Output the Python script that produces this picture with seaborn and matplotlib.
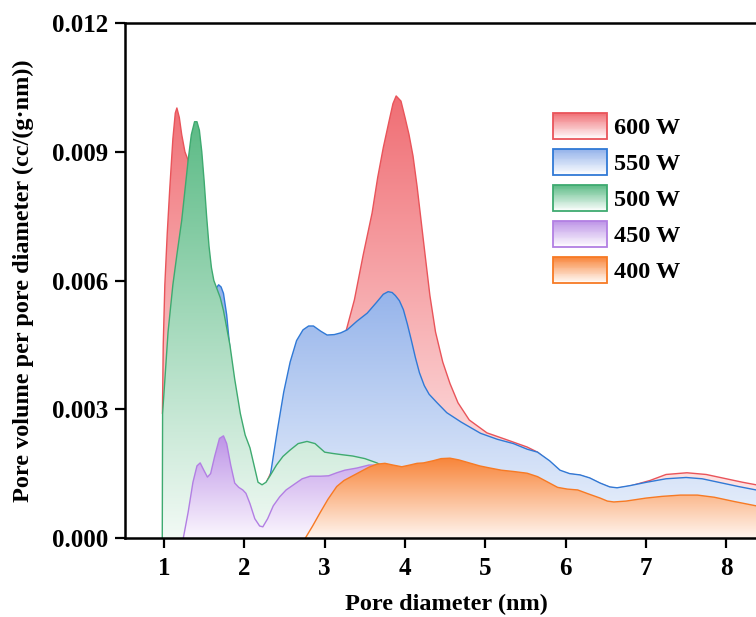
import numpy as np
import pandas as pd
import matplotlib
matplotlib.use("Agg")
import matplotlib.pyplot as plt
import matplotlib.colors as mcolors
from matplotlib.patches import PathPatch, Rectangle, Patch
from matplotlib.legend_handler import HandlerBase
from matplotlib.ticker import FormatStrFormatter
import seaborn as sns

# ---- pore size distribution data (pore diameter in nm, dV/dD in cc/(g·nm)) ----
x_600 = [0.98, 0.99, 1.01, 1.04, 1.07, 1.11, 1.14, 1.16, 1.19, 1.22, 1.26, 1.30, 1.35, 1.45,
         1.60, 1.80, 2.00, 2.20, 2.40, 2.60, 2.80, 3.00, 3.15, 3.27, 3.37, 3.48, 3.59, 3.66,
         3.73, 3.80, 3.85, 3.89, 3.95, 4.00, 4.05, 4.10, 4.15, 4.20, 4.25, 4.31, 4.38, 4.47,
         4.56, 4.66, 4.80, 5.02, 5.25, 5.52, 5.65, 5.77, 5.93, 6.05, 6.18, 6.30, 6.43, 6.55,
         6.64, 6.80, 7.05, 7.25, 7.51, 7.75, 8.00, 8.20, 8.37]
y_600 = [0.0029, 0.0045, 0.0059, 0.0071, 0.0081, 0.0093, 0.0099, 0.01002, 0.0098, 0.0094,
         0.0090, 0.0088, 0.0080, 0.0065, 0.0045, 0.0030, 0.0018, 0.0010, 0.0018, 0.0030,
         0.0038, 0.0042, 0.0045, 0.00485, 0.00555, 0.0066, 0.00757, 0.0084, 0.0091, 0.0097,
         0.01012, 0.0103, 0.01018, 0.0098, 0.0094, 0.0089, 0.0082, 0.0074, 0.0066, 0.00565,
         0.0048, 0.0041, 0.0036, 0.00315, 0.00275, 0.00245, 0.0023, 0.00212, 0.0020, 0.00182,
         0.00156, 0.00149, 0.00146, 0.00139, 0.00127, 0.00118, 0.00116, 0.00121, 0.00134,
         0.00148, 0.00152, 0.00148, 0.00138, 0.0013, 0.00124]

x_550 = [1.00, 1.20, 1.40, 1.55, 1.64, 1.68, 1.71, 1.74, 1.78, 1.81, 1.85, 1.95, 2.05, 2.15,
         2.25, 2.32, 2.41, 2.49, 2.57, 2.65, 2.73, 2.80, 2.86, 2.95, 3.03, 3.12, 3.20, 3.28,
         3.40, 3.53, 3.65, 3.73, 3.79, 3.84, 3.88, 3.93, 3.98, 4.03, 4.08, 4.13, 4.18, 4.24,
         4.30, 4.40, 4.52, 4.70, 4.94, 5.15, 5.35, 5.52, 5.65, 5.80, 5.93, 6.05, 6.18, 6.30,
         6.43, 6.55, 6.64, 6.80, 7.01, 7.25, 7.50, 7.70, 7.90, 8.15, 8.37]
y_550 = [0.0025, 0.0045, 0.0052, 0.0056, 0.0058, 0.0059, 0.00585, 0.0057, 0.0052, 0.0046,
         0.0038, 0.0025, 0.0016, 0.0011, 0.00105, 0.00142, 0.0025, 0.0034, 0.0041, 0.0046,
         0.00485, 0.00494, 0.00494, 0.00482, 0.00473, 0.00474, 0.00478, 0.00485, 0.00505,
         0.00524, 0.0055, 0.00568, 0.00574, 0.00572, 0.00565, 0.00553, 0.00532, 0.00498,
         0.0046, 0.0042, 0.00385, 0.00355, 0.00335, 0.00315, 0.00292, 0.0027, 0.00244, 0.0023,
         0.0022, 0.00207, 0.0020, 0.0018, 0.00158, 0.0015, 0.00147, 0.0014, 0.00128, 0.00119,
         0.00117, 0.00122, 0.0013, 0.00138, 0.00141, 0.00138, 0.0013, 0.0012, 0.00112]

x_500 = [0.978, 0.982, 1.00, 1.05, 1.11, 1.16, 1.22, 1.26, 1.30, 1.34, 1.38, 1.41, 1.44, 1.47,
         1.50, 1.53, 1.56, 1.59, 1.62, 1.66, 1.70, 1.74, 1.78, 1.82, 1.88, 1.95, 2.01, 2.07,
         2.12, 2.17, 2.22, 2.27, 2.32, 2.40, 2.48, 2.57, 2.67, 2.78, 2.88, 3.00, 3.10, 3.22,
         3.35, 3.50, 3.65, 3.80, 4.00, 4.20]
y_500 = [0.0, 0.0029, 0.0034, 0.0048, 0.0059, 0.0066, 0.0074, 0.0081, 0.0088, 0.0094, 0.0097,
         0.0097, 0.0095, 0.0090, 0.0083, 0.0075, 0.0068, 0.0063, 0.0060, 0.0058, 0.0056,
         0.0053, 0.0049, 0.0045, 0.0037, 0.0029, 0.0024, 0.0021, 0.0017, 0.0013, 0.00124,
         0.0013, 0.00145, 0.0017, 0.0019, 0.00205, 0.0022, 0.00225, 0.0022, 0.0020, 0.00197,
         0.00194, 0.00191, 0.00185, 0.00175, 0.0016, 0.0014, 0.0013]

x_450 = [1.24, 1.30, 1.36, 1.41, 1.45, 1.49, 1.54, 1.58, 1.63, 1.69, 1.74, 1.78, 1.83, 1.88,
         1.93, 1.98, 2.02, 2.07, 2.13, 2.19, 2.23, 2.29, 2.36, 2.44, 2.52, 2.62, 2.72, 2.82,
         2.95, 3.05, 3.15, 3.25, 3.40, 3.55, 3.70, 3.90]
y_450 = [0.0, 0.0006, 0.0013, 0.00168, 0.00175, 0.0016, 0.00142, 0.0015, 0.0019, 0.00232,
         0.00238, 0.0022, 0.0017, 0.00128, 0.00118, 0.00112, 0.00104, 0.0008, 0.00045,
         0.00028, 0.00026, 0.00045, 0.00075, 0.00096, 0.00112, 0.00125, 0.00138, 0.00144,
         0.00144, 0.00145, 0.00152, 0.00158, 0.00163, 0.0017, 0.0017, 0.0016]

x_400 = [2.76, 2.85, 2.94, 3.04, 3.15, 3.24, 3.32, 3.45, 3.55, 3.65, 3.75, 3.85, 3.96, 4.06,
         4.15, 4.23, 4.35, 4.45, 4.56, 4.67, 4.80, 4.93, 5.06, 5.20, 5.35, 5.52, 5.65, 5.78,
         5.90, 6.02, 6.15, 6.28, 6.43, 6.52, 6.60, 6.75, 7.00, 7.20, 7.43, 7.64, 7.85, 8.10,
         8.37]
y_400 = [0.0, 0.00028, 0.00058, 0.0009, 0.0012, 0.00134, 0.00142, 0.00155, 0.00165, 0.00172,
         0.00174, 0.0017, 0.00166, 0.0017, 0.00174, 0.00175, 0.0018, 0.00185, 0.00186,
         0.00182, 0.00175, 0.00168, 0.00163, 0.00158, 0.00155, 0.00151, 0.00143, 0.0013,
         0.00118, 0.00114, 0.00112, 0.00103, 0.00093, 0.00086, 0.00084, 0.00086, 0.00093,
         0.00097, 0.001, 0.001, 0.00095, 0.00085, 0.00075]

labels = ["600 W", "550 W", "500 W", "450 W", "400 W"]
line_colors = ["#E9545A", "#3079D6", "#3EAA70", "#B27FE3", "#F77A24"]
top_colors = ["#F06E74", "#93B2EA", "#5CBB86", "#BD94E7", "#F8853A"]
base_colors = ["#FFF3F3", "#EEF4FD", "#F2FAF5", "#FBF6FE", "#FFF5EF"]

series = [(x_600, y_600), (x_550, y_550), (x_500, y_500), (x_450, y_450), (x_400, y_400)]

sns.set_theme(style="ticks")
plt.rcParams["font.family"] = ["Liberation Serif", "DejaVu Serif"]
plt.rcParams["font.weight"] = "bold"
for key in ["text.color", "axes.labelcolor", "xtick.color", "ytick.color",
            "axes.edgecolor"]:
    plt.rcParams[key] = "black"

fig = plt.figure(figsize=(7.56, 6.17), dpi=100)
ax = fig.add_axes([125 / 756, 1 - 538 / 617, 1 - 125 / 756, 515 / 617])


def gradient_rgb(c_bottom, c_top, n=256):
    b = np.array(mcolors.to_rgb(c_bottom))
    t = np.array(mcolors.to_rgb(c_top))
    w = np.linspace(0, 1, n)[:, None]
    return (b * (1 - w) + t * w)[:, None, :]


for i, ((xs, ys), lab) in enumerate(zip(series, labels)):
    df = pd.DataFrame({"d": xs, "v": ys})
    xs_a = np.asarray(xs)
    ys_a = np.asarray(ys)
    poly = ax.fill_between(xs_a, ys_a, 0, facecolor="none", edgecolor="none")
    clip = PathPatch(poly.get_paths()[0], transform=ax.transData,
                     facecolor="none", edgecolor="none")
    ax.add_patch(clip)
    img = ax.imshow(gradient_rgb(base_colors[i], top_colors[i]),
                    extent=(xs_a.min(), xs_a.max(), 0, ys_a.max()),
                    origin="lower", aspect="auto", interpolation="bilinear",
                    zorder=2 + i)
    img.set_clip_path(clip)
    sns.lineplot(data=df, x="d", y="v", ax=ax, color=line_colors[i], linewidth=1.0,
                 estimator=None, sort=False, zorder=2.5 + i)

ax.set_xlim(0.514, 8.37)
ax.set_ylim(0, 0.012)
ax.set_xticks([1, 2, 3, 4, 5, 6, 7, 8])
ax.set_yticks([0, 0.003, 0.006, 0.009, 0.012])
ax.yaxis.set_major_formatter(FormatStrFormatter("%.3f"))

for side in ["left", "bottom", "top"]:
    ax.spines[side].set_linewidth(1.8)
    ax.spines[side].set_color("black")
    ax.spines[side].set_zorder(20)
ax.spines["right"].set_visible(False)

ax.tick_params(axis="both", direction="out", length=7, width=1.6, labelsize=18,
               colors="black")
ax.tick_params(axis="y", pad=5)
ax.tick_params(axis="x", pad=6.5)
for t in ax.get_xticklabels() + ax.get_yticklabels():
    t.set_fontweight("bold")

ax.set_xlabel("Pore diameter (nm)", fontsize=17.5, fontweight="bold")
ax.xaxis.set_label_coords((446 - 125) / 631, -(594 - 538) / 515)
ax.set_ylabel("Pore volume per pore diameter (cc/(g·nm))", fontsize=17.5,
              fontweight="bold", labelpad=13)


class GradientHandler(HandlerBase):
    def create_artists(self, legend, orig_handle, xdescent, ydescent, width, height,
                       fontsize, trans):
        top = np.array(mcolors.to_rgb(orig_handle.get_facecolor()))
        white = np.array([1.0, 1.0, 1.0])
        n = 30
        arts = []
        for k in range(n):
            w = (k + 0.5) / n
            c = white * (1 - w) + top * w
            arts.append(Rectangle((-xdescent, -ydescent + height * k / n), width,
                                  height / n * 1.05, facecolor=c, edgecolor="none",
                                  linewidth=0, transform=trans))
        arts.append(Rectangle((-xdescent, -ydescent), width, height, facecolor="none",
                              edgecolor=orig_handle.get_edgecolor(), linewidth=1.3,
                              transform=trans))
        return arts


handles = [Patch(facecolor=top_colors[i], edgecolor=line_colors[i], label=labels[i])
           for i in range(5)]
ax.legend(handles=handles, handler_map={Patch: GradientHandler()}, loc="upper left",
          bbox_to_anchor=(553 / 756, 1 - 113 / 617), bbox_transform=fig.transFigure,
          frameon=False, handlelength=2.23, handleheight=1.26, labelspacing=0.41,
          handletextpad=0.29, borderpad=0, borderaxespad=0,
          prop={"family": "Liberation Serif", "weight": "bold", "size": 17.5})

fig.savefig("out.png", dpi=100)
